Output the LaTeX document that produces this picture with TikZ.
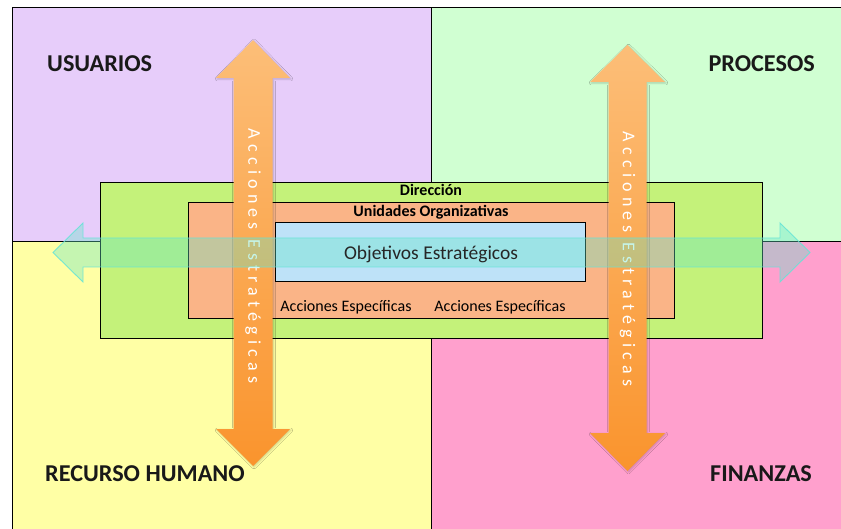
\documentclass[tikz,border=0pt]{standalone}
\usepackage{fontspec}
\setmainfont{Carlito}
\usetikzlibrary{shadows.blur}
\definecolor{quadTL}{RGB}{231,205,250}
\definecolor{quadTR}{RGB}{208,255,210}
\definecolor{quadBL}{RGB}{255,255,165}
\definecolor{quadBR}{RGB}{255,160,205}
\definecolor{boxGreen}{RGB}{196,242,122}
\definecolor{boxOrange}{RGB}{250,180,135}
\definecolor{boxBlue}{RGB}{190,226,248}
\definecolor{arrTop}{RGB}{252,190,120}
\definecolor{arrBot}{RGB}{250,148,45}
\definecolor{hFill}{RGB}{100,230,200}
\definecolor{hLine}{RGB}{100,228,215}
\tikzset{
  x=1pt, y=-1pt,
  frame/.style={draw=black, line width=1pt},
  quadlabel/.style={font=\fontsize{24.2}{27}\selectfont\bfseries, text=black!90, inner sep=0},
  boxtitle/.style={font=\fontsize{16}{18}\selectfont\bfseries, inner sep=0},
  actionlabel/.style={font=\fontsize{16}{18}\selectfont, inner sep=0},
  vertarrow/.style={top color=arrTop, bottom color=arrBot, draw=none,
    blur shadow={shadow xshift=1pt, shadow yshift=-1pt, shadow blur steps=5, shadow opacity=20}},
  horarrow/.style={fill=hFill, fill opacity=0.37, draw=hLine, draw opacity=0.85, line width=0.9pt},
  verttext/.style={rotate=-90, text=white, inner sep=0,
    font=\fontsize{18}{20}\selectfont\addfontfeatures{LetterSpace=29}}
}
\begin{document}
\begin{tikzpicture}
\useasboundingbox (0,0) rectangle (841,529);
\begin{scope}
\clip (0,0) rectangle (841,529);
% four quadrants
\fill[quadTL] (12,8) rectangle (431,242);
\fill[quadTR] (431,8) rectangle (850,242);
\fill[quadBL] (12,242) rectangle (431,540);
\fill[quadBR] (431,242) rectangle (850,540);
\draw[frame] (12,540) -- (12,8) -- (850,8);
\draw[frame] (431,8) -- (431,540);
\draw[frame] (12,242) -- (850,242);
\end{scope}

% nested boxes
\node[frame, fill=boxGreen, minimum width=662, minimum height=156, anchor=north west, inner sep=0] (dir) at (100,182) {};
\node[frame, fill=boxOrange, minimum width=486, minimum height=116, anchor=north west, inner sep=0] (uni) at (188,202) {};
\node[frame, fill=boxBlue, minimum width=310, minimum height=59, anchor=north west, inner sep=0] (obj) at (275,222) {};

\node[boxtitle] (tdir) at (431,190) {Dirección};
\node[boxtitle] (tuni) at (431,212) {Unidades Organizativas};
\node[actionlabel] (acc1) at (346,307) {Acciones Específicas};
\node[actionlabel] (acc2) at (500,307) {Acciones Específicas};

% quadrant labels
\node[quadlabel, anchor=west] (usu) at (47,64) {USUARIOS};
\node[quadlabel, anchor=east] (pro) at (815,64) {PROCESOS};
\node[quadlabel, anchor=west] (rh) at (45,474) {RECURSO HUMANO};
\node[quadlabel, anchor=east] (fin) at (812,474) {FINANZAS};

% vertical double arrows
\path[vertarrow] (253,40) -- (290,78) -- (272.5,78) -- (272.5,429) -- (290,429) -- (253,466)
  -- (216,429) -- (233.5,429) -- (233.5,78) -- (216,78) -- cycle;
\path[vertarrow] (627.5,45) -- (665,82) -- (646.5,82) -- (646.5,433) -- (665,433) -- (627.5,471)
  -- (590,433) -- (608.5,433) -- (608.5,82) -- (590,82) -- cycle;
\node[verttext] (va1) at (253,256) {Acciones Estratégicas};
\node[verttext] (va2) at (627.5,259) {Acciones Estratégicas};

% horizontal double arrow
\path[horarrow] (53,252.5) -- (83,223) -- (83,238) -- (780,238) -- (780,223) -- (810,252.5)
  -- (780,282) -- (780,267) -- (83,267) -- (83,282) -- cycle;

% central objective, kept above the translucent arrow
\node[font=\fontsize{19.5}{22}\selectfont, text=black!85, inner sep=0] (tobj) at (431,254) {Objetivos Estratégicos};
\end{tikzpicture}
\end{document}
